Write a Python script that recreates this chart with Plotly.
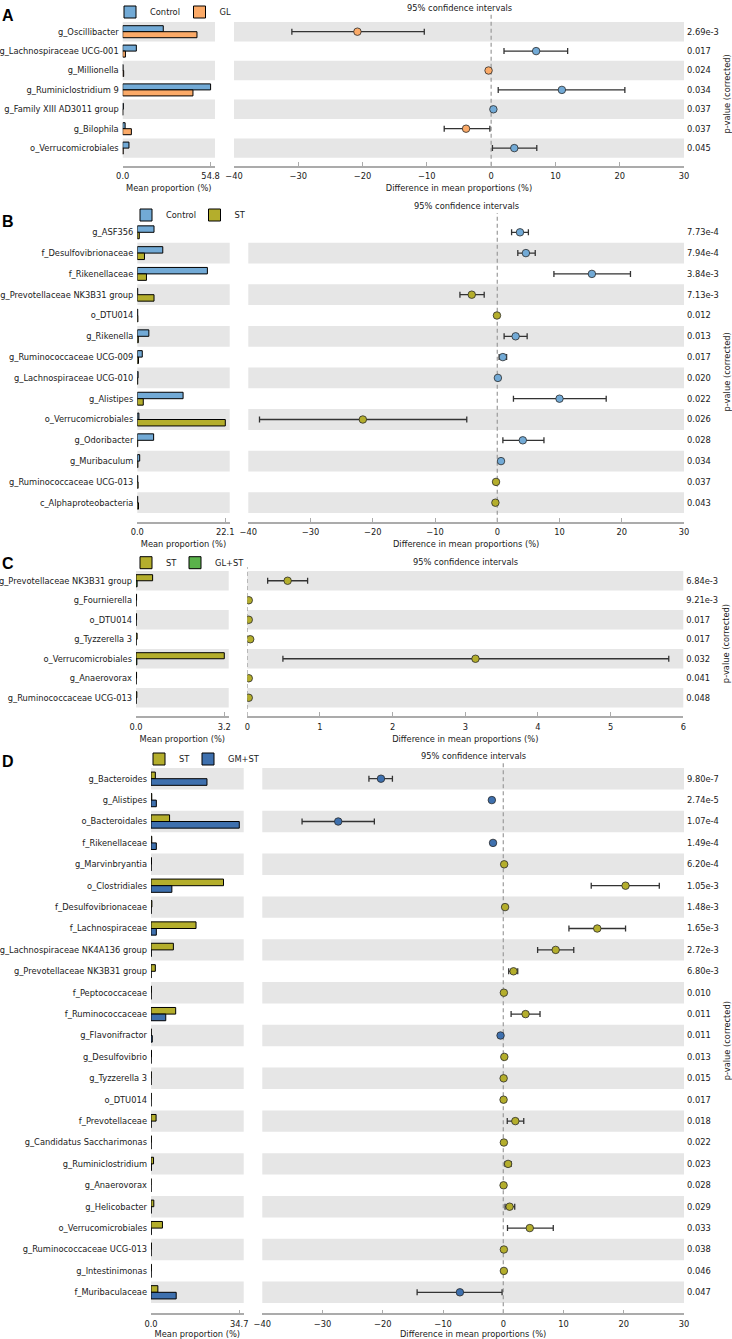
import plotly.graph_objects as go

# ---------------- DATA ----------------
# Panel A: Control vs GL
taxa_A = ["g_Oscillibacter", "g_Lachnospiraceae UCG-001", "g_Millionella", "g_Ruminiclostridium 9",
          "g_Family XIII AD3011 group", "g_Bilophila", "o_Verrucomicrobiales"]
groups_A = ["Control", "GL"]
mean1_A = [25.3, 8.5, 0.2, 54.8, 0.4, 1.5, 3.9]
mean2_A = [46.3, 1.7, 0.6, 43.8, 0.05, 5.4, 0.3]
diff_A = [-20.8, 7.0, -0.4, 11.0, 0.35, -3.9, 3.6]
lo_A = [-31.0, 2.0, -0.6, 1.1, 0.2, -7.3, 0.2]
hi_A = [-10.4, 11.9, -0.2, 20.8, 0.5, -0.2, 7.1]
p_A = ["2.69e-3", "0.017", "0.024", "0.034", "0.037", "0.037", "0.045"]

# Panel B: Control vs ST
taxa_B = ["g_ASF356", "f_Desulfovibrionaceae", "f_Rikenellaceae", "g_Prevotellaceae NK3B31 group",
          "o_DTU014", "g_Rikenella", "g_Ruminococcaceae UCG-009", "g_Lachnospiraceae UCG-010",
          "g_Alistipes", "o_Verrucomicrobiales", "g_Odoribacter", "g_Muribaculum",
          "g_Ruminococcaceae UCG-013", "c_Alphaproteobacteria"]
groups_B = ["Control", "ST"]
mean1_B = [4.2, 6.4, 17.6, 0.1, 0.1, 2.9, 1.25, 0.2, 11.5, 0.4, 4.1, 0.6, 0.1, 0.1]
mean2_B = [0.5, 1.8, 2.3, 4.2, 0.15, 0.25, 0.3, 0.1, 1.5, 22.1, 0.1, 0.15, 0.2, 0.3]
diff_B = [3.65, 4.6, 15.2, -4.1, -0.05, 2.95, 0.9, 0.1, 10.0, -21.6, 4.1, 0.6, -0.2, -0.3]
lo_B = [2.3, 3.3, 9.1, -6.0, -0.1, 1.1, 0.3, 0.0, 2.6, -38.2, 0.9, 0.3, -0.3, -0.45]
hi_B = [5.0, 6.1, 21.4, -2.1, 0.0, 4.8, 1.5, 0.2, 17.5, -4.9, 7.5, 0.9, -0.1, -0.15]
p_B = ["7.73e-4", "7.94e-4", "3.84e-3", "7.13e-3", "0.012", "0.013", "0.017", "0.020",
       "0.022", "0.026", "0.028", "0.034", "0.037", "0.043"]

# Panel C: ST vs GL+ST
taxa_C = ["g_Prevotellaceae NK3B31 group", "g_Fournierella", "o_DTU014", "g_Tyzzerella 3",
          "o_Verrucomicrobiales", "g_Anaerovorax", "g_Ruminococcaceae UCG-013"]
groups_C = ["ST", "GL+ST"]
mean1_C = [0.6, 0.02, 0.02, 0.04, 3.19, 0.02, 0.03]
mean2_C = [0.04, 0.002, 0.002, 0.002, 0.03, 0.002, 0.002]
diff_C = [0.555, 0.02, 0.02, 0.04, 3.14, 0.02, 0.02]
lo_C = [0.28, 0.01, 0.01, 0.02, 0.49, 0.01, 0.01]
hi_C = [0.83, 0.03, 0.03, 0.06, 5.8, 0.03, 0.03]
p_C = ["6.84e-3", "9.21e-3", "0.017", "0.017", "0.032", "0.041", "0.048"]

# Panel D: ST vs GM+ST
taxa_D = ["g_Bacteroides", "g_Alistipes", "o_Bacteroidales", "f_Rikenellaceae", "g_Marvinbryantia",
          "o_Clostridiales", "f_Desulfovibrionaceae", "f_Lachnospiraceae",
          "g_Lachnospiraceae NK4A136 group", "g_Prevotellaceae NK3B31 group", "f_Peptococcaceae",
          "f_Ruminococcaceae", "g_Flavonifractor", "g_Desulfovibrio", "g_Tyzzerella 3", "o_DTU014",
          "f_Prevotellaceae", "g_Candidatus Saccharimonas", "g_Ruminiclostridium", "g_Anaerovorax",
          "g_Helicobacter", "o_Verrucomicrobiales", "g_Ruminococcaceae UCG-013", "g_Intestinimonas",
          "f_Muribaculaceae"]
groups_D = ["ST", "GM+ST"]
mean1_D = [1.7, 0.3, 7.3, 0.3, 0.2, 28.5, 0.35, 17.7, 8.8, 1.7, 0.15, 9.7, 0.1, 0.2, 0.1, 0.1,
           2.0, 0.15, 1.0, 0.06, 1.1, 4.5, 0.15, 0.15, 2.7]
mean2_D = [22.0, 2.1, 34.7, 2.1, 0.02, 8.2, 0.05, 2.1, 0.1, 0.05, 0.02, 5.8, 0.5, 0.03, 0.02, 0.02,
           0.05, 0.02, 0.15, 0.01, 0.08, 0.1, 0.02, 0.03, 9.9]
diff_D = [-20.3, -1.9, -27.4, -1.7, 0.15, 20.3, 0.3, 15.6, 8.7, 1.7, 0.1, 3.7, -0.45, 0.17, 0.06,
          0.05, 2.0, 0.1, 0.8, 0.05, 1.05, 4.4, 0.1, 0.1, -7.2]
lo_D = [-22.3, -2.2, -33.4, -2.0, 0.1, 14.6, 0.2, 10.9, 5.7, 0.9, 0.05, 1.3, -0.6, 0.1, 0.03,
        0.02, 0.66, 0.05, 0.3, 0.02, 0.3, 0.7, 0.05, 0.05, -14.3]
hi_D = [-18.4, -1.6, -21.4, -1.4, 0.2, 25.9, 0.4, 20.3, 11.7, 2.4, 0.15, 6.1, -0.3, 0.25, 0.09,
        0.08, 3.4, 0.15, 1.3, 0.08, 1.9, 8.3, 0.15, 0.15, -0.2]
p_D = ["9.80e-7", "2.74e-5", "1.07e-4", "1.49e-4", "6.20e-4", "1.05e-3", "1.48e-3", "1.65e-3",
       "2.72e-3", "6.80e-3", "0.010", "0.011", "0.011", "0.013", "0.015", "0.017", "0.018", "0.022",
       "0.023", "0.028", "0.029", "0.033", "0.038", "0.046", "0.047"]

COLORS = {"Control": "#72aad6", "GL": "#fbaa68", "ST": "#b4ae2c", "GL+ST": "#5ab24a", "GM+ST": "#3e70ae"}

# ---------------- LAYOUT GEOMETRY (pixels) ----------------
W, H = 732, 1339
FONT = "DejaVu Sans"
FS = 8.3
TXT = "#1a1a1a"
AX = "#ababab"
BAND = "#e6e6e6"

panels = [
    dict(letter="A", taxa=taxa_A, groups=groups_A, m1=mean1_A, m2=mean2_A, d=diff_A, lo=lo_A, hi=hi_A, p=p_A,
         top=22.0, axis=165.7, row=19.4, bx=(122.7, 215.0), cx=(234.0, 684.0), crange=[-40, 30], cdtick=10,
         title_y=8.3, leg_x=(110, 179.5), leg_y=12, letter_y=15, zero_top=13),
    dict(letter="B", taxa=taxa_B, groups=groups_B, m1=mean1_B, m2=mean2_B, d=diff_B, lo=lo_B, hi=hi_B, p=p_B,
         top=221.9, axis=521.7, row=20.8, bx=(137.3, 229.7), cx=(248.3, 684.0), crange=[-40, 30], cdtick=10,
         title_y=206, leg_x=(126, 194.5), leg_y=215, letter_y=221.7, zero_top=213),
    dict(letter="C", taxa=taxa_C, groups=groups_C, m1=mean1_C, m2=mean2_C, d=diff_C, lo=lo_C, hi=hi_C, p=p_C,
         top=571.0, axis=716.0, row=19.5, bx=(136.0, 228.7), cx=(247.3, 683.3), crange=[0, 6], cdtick=1,
         title_y=561.7, leg_x=(126, 175), leg_y=562.7, letter_y=563, zero_top=567),
    dict(letter="D", taxa=taxa_D, groups=groups_D, m1=mean1_D, m2=mean2_D, d=diff_D, lo=lo_D, hi=hi_D, p=p_D,
         top=768.0, axis=1313.3, row=21.4, bx=(151.0, 243.7), cx=(262.3, 684.0), crange=[-40, 30], cdtick=10,
         title_y=755.7, leg_x=(139, 188), leg_y=759, letter_y=761.7, zero_top=763),
]


def fx(p):
    return p / W


def fy(p):
    return 1 - p / H


def suf(n):
    return "" if n == 1 else str(n)


fig = go.Figure()
layout = dict(width=W, height=H, margin=dict(l=0, r=0, t=0, b=0, autoexpand=False), paper_bgcolor="white",
              plot_bgcolor="white", barmode="group", bargap=0.38, bargroupgap=0.0,
              font=dict(family=FONT, size=FS, color=TXT), showlegend=True)
shapes, annotations = [], []

for k, P in enumerate(panels):
    nb, nc = 2 * k + 1, 2 * k + 2
    xb, yb, xc, yc = "x" + suf(nb), "y" + suf(nb), "x" + suf(nc), "y" + suf(nc)
    leg1, leg2 = "legend" + suf(2 * k + 1), "legend" + suf(2 * k + 2)
    taxa = P["taxa"]
    n = len(taxa)
    g1, g2 = P["groups"]
    c1, c2 = COLORS[g1], COLORS[g2]

    fig.add_trace(go.Bar(y=taxa, x=P["m1"], orientation="h", name=g1, xaxis=xb, yaxis=yb, legend=leg1,
                         marker=dict(color=c1, line=dict(color="black", width=1)), hoverinfo="skip"))
    fig.add_trace(go.Bar(y=taxa, x=P["m2"], orientation="h", name=g2, xaxis=xb, yaxis=yb, legend=leg2,
                         marker=dict(color=c2, line=dict(color="black", width=1)), hoverinfo="skip"))
    mcol = [c1 if v > 0 else c2 for v in P["d"]]
    fig.add_trace(go.Scatter(
        x=P["d"], y=taxa, mode="markers", xaxis=xc, yaxis=yc, showlegend=False, cliponaxis=True,
        marker=dict(size=7.5, color=mcol, line=dict(color="#2a2a2a", width=0.8)),
        error_x=dict(type="data", symmetric=False,
                     array=[h - v for h, v in zip(P["hi"], P["d"])],
                     arrayminus=[v - l for v, l in zip(P["d"], P["lo"])],
                     color="#333333", thickness=1.3, width=3)))

    ydom = [fy(P["axis"]), fy(P["top"])]
    yrange = [-0.5 + (P["axis"] - P["top"]) / P["row"], -0.5]
    mx = max(max(P["m1"]), max(P["m2"]))
    axis_common = dict(showline=True, linecolor=AX, linewidth=1.5, ticks="inside", ticklen=4,
                       tickcolor=AX, tickwidth=1, showgrid=False, zeroline=False, automargin=False,
                       ticklabelstandoff=2, tickfont=dict(size=FS, color=TXT), fixedrange=True)
    layout["xaxis" + suf(nb)] = dict(domain=[fx(P["bx"][0]), fx(P["bx"][1])], anchor=yb,
                                     range=[0, mx * 1.05], tickmode="array", tickvals=[0, mx],
                                     ticktext=["0.0", f"{mx:.1f}"],
                                     title=dict(text="Mean proportion (%)", standoff=5,
                                                font=dict(size=FS, color=TXT)), **axis_common)
    layout["yaxis" + suf(nb)] = dict(domain=ydom, anchor=xb, type="category", categoryorder="array",
                                     categoryarray=taxa, range=yrange, showline=False, ticks="",
                                     showgrid=False, zeroline=False, ticklabelstandoff=3, automargin=False,
                                     tickfont=dict(size=FS, color=TXT), fixedrange=True)
    layout["xaxis" + suf(nc)] = dict(domain=[fx(P["cx"][0]), fx(P["cx"][1])], anchor=yc,
                                     range=P["crange"], dtick=P["cdtick"], tick0=0,
                                     title=dict(text="Difference in mean proportions (%)", standoff=5,
                                                font=dict(size=FS, color=TXT)), **axis_common)
    layout["yaxis" + suf(nc)] = dict(domain=ydom, anchor=xc, side="right", type="category",
                                     categoryorder="array", categoryarray=taxa, range=yrange,
                                     tickmode="array", tickvals=taxa, ticktext=P["p"],
                                     showline=False, ticks="", showgrid=False, zeroline=False,
                                     ticklabelstandoff=2, tickfont=dict(size=FS, color=TXT), automargin=False,
                                     title=dict(text="p-value (corrected)", standoff=6,
                                                font=dict(size=FS, color=TXT)), fixedrange=True)

    # alternating row bands (bottom row shaded)
    for i in range(n):
        if (n - 1 - i) % 2 == 0:
            for xr, yr in ((xb, yb), (xc, yc)):
                shapes.append(dict(type="rect", xref=xr + " domain", yref=yr, x0=0, x1=1,
                                   y0=i - 0.5, y1=i + 0.5, fillcolor=BAND, line=dict(width=0),
                                   layer="below"))
    # dashed zero line
    shapes.append(dict(type="line", xref=xc, yref="paper", x0=0, x1=0, y0=fy(P["axis"]),
                       y1=fy(P["zero_top"]), line=dict(color="#9a9a9a", width=1.2, dash="4px,3px"),
                       layer="below"))
    # title
    annotations.append(dict(text="95% confidence intervals", xref=xc + " domain", x=0.5, yref="paper",
                            y=fy(P["title_y"]), showarrow=False, xanchor="center", yanchor="middle",
                            font=dict(size=FS, color=TXT)))
    # panel letter
    annotations.append(dict(text="<b>%s</b>" % P["letter"], xref="paper", x=0.0, yref="paper",
                            y=fy(P["letter_y"]), showarrow=False, xanchor="left", yanchor="middle",
                            font=dict(family="Liberation Sans", size=16, color="black")))
    for lg, lx in ((leg1, P["leg_x"][0]), (leg2, P["leg_x"][1])):
        layout[lg] = dict(x=fx(lx), y=fy(P["leg_y"]), xanchor="left", yanchor="middle",
                          orientation="h", bgcolor="rgba(0,0,0,0)", borderwidth=0,
                          font=dict(size=FS, color=TXT), itemwidth=30, traceorder="normal")

layout["shapes"] = shapes
layout["annotations"] = annotations
fig.update_layout(**layout)
fig.write_html("out.html", config={"displayModeBar": False},
               post_script="document.body.style.margin='0';document.body.style.overflow='hidden';")
